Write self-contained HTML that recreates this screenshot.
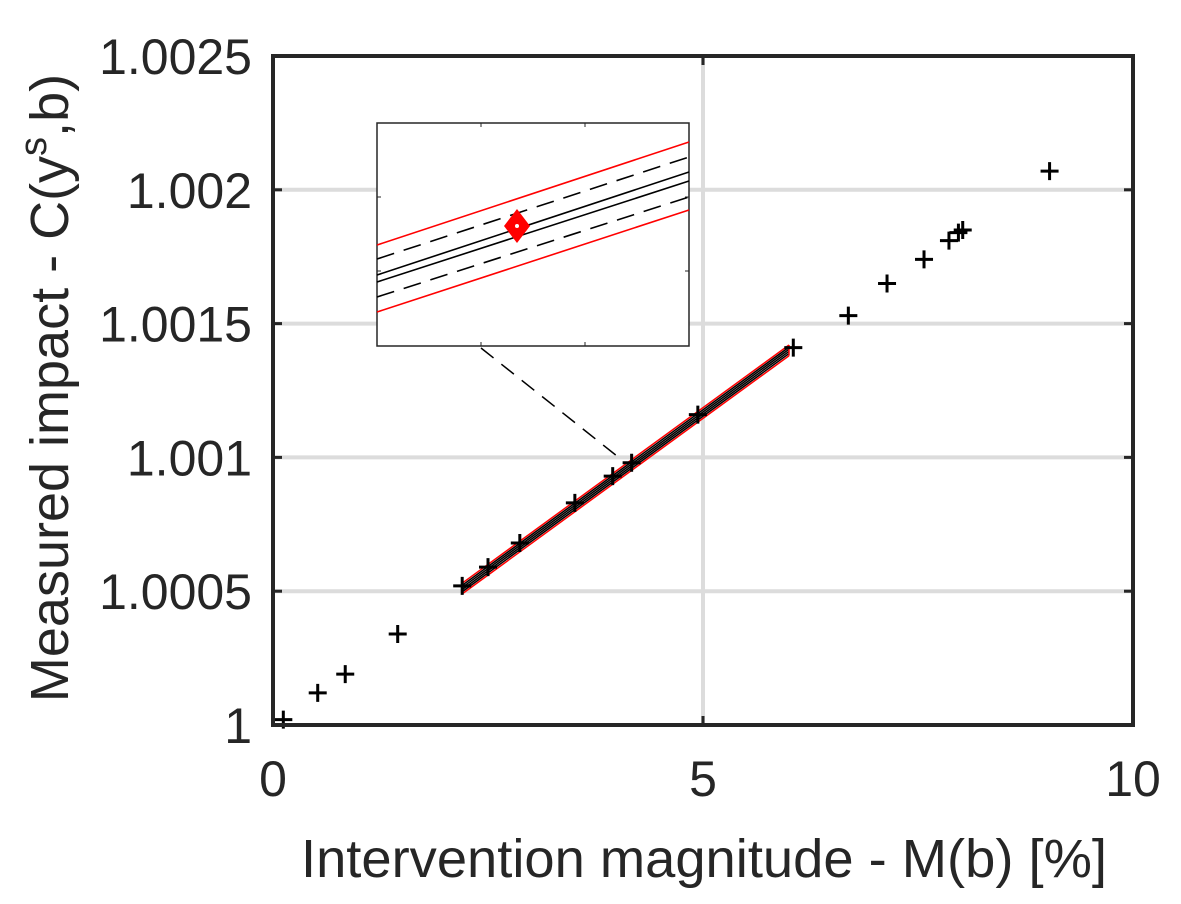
<!DOCTYPE html>
<html><head><meta charset="utf-8"><style>
body{margin:0;background:#fff;}
svg{display:block;font-family:"Liberation Sans",sans-serif;}
</style></head><body>
<svg width="1181" height="904" viewBox="0 0 1181 904">
<g id="grid"></g>
<g id="band"></g>
<g id="pts"></g>
<line x1="481" y1="348" x2="622" y2="460" stroke="#000" stroke-width="1.5" stroke-dasharray="16,10"/>
<g>
<rect x="377" y="123" width="312" height="223" fill="#fff" stroke="#262626" stroke-width="1.5"/>
<line x1="481" y1="123" x2="481" y2="127" stroke="#262626"/><line x1="585" y1="123" x2="585" y2="127" stroke="#262626"/>
<line x1="481" y1="346" x2="481" y2="342" stroke="#262626"/><line x1="585" y1="346" x2="585" y2="342" stroke="#262626"/>
<line x1="377" y1="197" x2="381" y2="197" stroke="#262626"/><line x1="377" y1="271" x2="381" y2="271" stroke="#262626"/>
<line x1="689" y1="197" x2="685" y2="197" stroke="#262626"/><line x1="689" y1="271" x2="685" y2="271" stroke="#262626"/>
<line x1="377" y1="245" x2="689" y2="142" stroke="#f00" stroke-width="1.6"/>
<line x1="377" y1="259" x2="689" y2="157" stroke="#000" stroke-width="1.6" stroke-dasharray="18,10"/>
<line x1="377" y1="275" x2="689" y2="172" stroke="#000" stroke-width="1.6"/>
<line x1="377" y1="282" x2="689" y2="181" stroke="#000" stroke-width="1.6"/>
<line x1="377" y1="297" x2="689" y2="197" stroke="#000" stroke-width="1.6" stroke-dasharray="18,10"/>
<line x1="377" y1="312" x2="689" y2="210" stroke="#f00" stroke-width="1.6"/>
<polygon points="517,209 530,226 517,243 504,226" fill="#f00"/>
<circle cx="517" cy="226" r="2" fill="#fff"/>
</g>
<rect x="273" y="56" width="860" height="669" fill="none" stroke="#262626" stroke-width="4"/>
<g id="ticks"></g>
<text x="704" y="877" text-anchor="middle" font-size="54" fill="#262626" textLength="806" lengthAdjust="spacingAndGlyphs">Intervention magnitude - M(b) [%]</text>
<text transform="translate(68,388) rotate(-90)" text-anchor="middle" font-size="54" fill="#262626">Measured impact - C(y<tspan font-size="38" dy="-22">s</tspan><tspan dy="22">,b)</tspan></text>
</svg>
<script>
const xTicks=[0,5,10];
const xTickLabels=["0","5","10"];
const yTicks=[1,1.0005,1.001,1.0015,1.002,1.0025];
const yTickLabels=["1","1.0005","1.001","1.0015","1.002","1.0025"];
const ptX=[0.12,0.52,0.84,1.45,2.2,2.5,2.87,3.51,3.95,4.17,4.94,6.05,6.69,7.14,7.57,7.86,7.97,8.02,9.03];
const ptY=[1.00002,1.00012,1.00019,1.00034,1.00052,1.00059,1.00068,1.00083,1.00093,1.00098,1.00116,1.00141,1.00153,1.00165,1.00174,1.00181,1.00184,1.00185,1.00207];
const bandX=[2.2,6.0];
const bandY=[1.00051,1.0014];
const bandOff=[-0.00002,-0.000012,-0.000004,0.000004,0.000012,0.00002];
const X0=273,X1=1133,Y0=725,Y1=56;
const sx=v=>X0+(v-0)/10*(X1-X0);
const sy=v=>Y0-(v-1)/0.0025*(Y0-Y1);
const NS="http://www.w3.org/2000/svg";
function mk(t,a,p){const e=document.createElementNS(NS,t);for(const k in a)e.setAttribute(k,a[k]);p.appendChild(e);return e;}
const grid=document.getElementById('grid'),ticks=document.getElementById('ticks'),band=document.getElementById('band'),pts=document.getElementById('pts');
xTicks.forEach((v,i)=>{
 if(i>0&&i<xTicks.length-1){const g=mk('line',{x1:sx(v),x2:sx(v),y1:Y1,y2:Y0,stroke:'#dcdcdc','stroke-width':4},grid);
 
 }
 mk('line',{x1:sx(v),x2:sx(v),y1:Y0,y2:Y0-9,stroke:'#262626','stroke-width':3},ticks);
 mk('line',{x1:sx(v),x2:sx(v),y1:Y1,y2:Y1+9,stroke:'#262626','stroke-width':3},ticks);
 const t=mk('text',{x:sx(v),y:796,'text-anchor':'middle','font-size':50,fill:'#262626'},ticks);t.textContent=xTickLabels[i];
 
 
});
yTicks.forEach((v,i)=>{
 if(i>0&&i<yTicks.length-1){const g=mk('line',{x1:X0,x2:X1,y1:sy(v),y2:sy(v),stroke:'#dcdcdc','stroke-width':4},grid);
 
 }
 mk('line',{x1:X0,x2:X0+9,y1:sy(v),y2:sy(v),stroke:'#262626','stroke-width':3},ticks);
 mk('line',{x1:X1,x2:X1-9,y1:sy(v),y2:sy(v),stroke:'#262626','stroke-width':3},ticks);
 const t=mk('text',{x:252,y:sy(v)+18,'text-anchor':'end','font-size':50,fill:'#262626'},ticks);t.textContent=yTickLabels[i];
 
 
});
bandOff.forEach((o,i)=>{
 const red=(i==0||i==bandOff.length-1);
 const l=mk('line',{x1:sx(bandX[0]),y1:sy(bandY[0]+o),x2:sx(bandX[1]),y2:sy(bandY[1]+o),stroke:red?'#f00':'#000','stroke-width':1.5},band);
 
 
});
mk('line',{x1:sx(bandX[0]),y1:sy(bandY[0]+bandOff[0]),x2:sx(bandX[0]),y2:sy(bandY[0]+bandOff[5]),stroke:'#f00','stroke-width':1.5},band);
mk('line',{x1:sx(bandX[1]),y1:sy(bandY[1]+bandOff[0]),x2:sx(bandX[1]),y2:sy(bandY[1]+bandOff[5]),stroke:'#f00','stroke-width':1.5},band);
ptX.forEach((v,i)=>{
 const x=sx(v),y=sy(ptY[i]);
 const p=mk('path',{d:`M${x-9},${y}H${x+9}M${x},${y-9}V${y+9}`,stroke:'#000','stroke-width':3,fill:'none'},pts);
 
 
});
</script>
</body></html>
